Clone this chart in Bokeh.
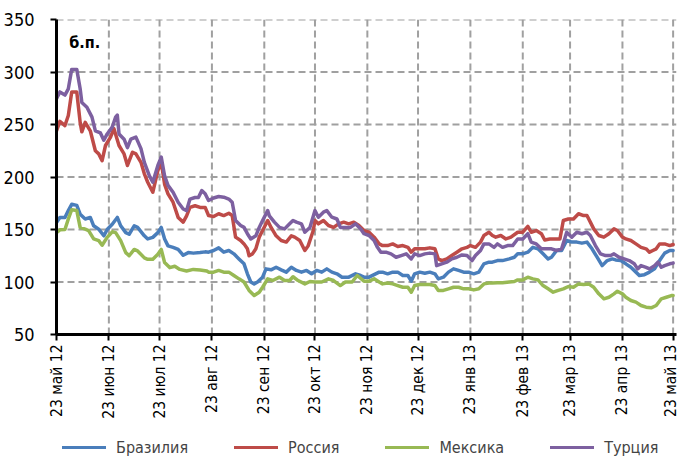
import math
import datetime as dt
import numpy as np
from bokeh.plotting import figure
from bokeh.layouts import column
from bokeh.models import Range1d, FixedTicker, Legend, LegendItem, Label
from bokeh.embed import file_html
from bokeh.resources import INLINE

# ---------------- data ----------------
start_date = "2012-05-23"
tick_dates = ["2012-05-23", "2012-06-23", "2012-07-23", "2012-08-23", "2012-09-23",
              "2012-10-23", "2012-11-23", "2012-12-23", "2013-01-23", "2013-02-23",
              "2013-03-23", "2013-04-23", "2013-05-23"]
tick_labels = ["23 май 12", "23 июн 12", "23 июл 12", "23 авг 12", "23 сен 12",
               "23 окт 12", "23 ноя 12", "23 дек 12", "23 янв 13", "23 фев 13",
               "23 мар 13", "23 апр 13", "23 май 13"]
y_ticks = [50, 100, 150, 200, 250, 300, 350]
series_names = ["Бразилия", "Россия", "Мексика", "Турция"]
unit_label = "б.п."

# days since 23 May 2012
brazil_days = [0, 2, 5, 7, 9, 12, 14, 17, 20, 22, 25, 28, 30, 33, 36, 38, 41, 43, 46, 48, 52, 54, 57, 60,
               62, 64, 66, 69, 72, 75, 78, 81, 85, 88, 90, 93, 96, 99, 102, 105, 108, 111, 113, 115, 117,
               119, 122, 124, 127, 130, 133, 136, 139, 142, 145, 148, 151, 154, 157, 160, 163, 166, 169,
               173, 177, 180, 182, 185, 188, 191, 193, 196, 199, 202, 205, 208, 210, 212, 215, 218, 221,
               224, 226, 229, 232, 235, 238, 241, 244, 247, 250, 253, 256, 258, 261, 264, 268, 271, 273,
               276, 279, 282, 285, 288, 291, 293, 296, 299, 302, 305, 308, 311, 314, 317, 320, 323, 326,
               329, 331, 334, 337, 340, 343, 345, 348, 351, 354, 357, 360, 363, 365]
brazil_vals = [156.7, 161.5, 161.5, 168, 174, 173, 164.6, 160, 161.5, 153.5, 150.3, 144, 150, 155, 161.5,
               153.5, 147, 145.5, 153.5, 152, 144, 141, 142.5, 147, 152, 141, 134.4, 133, 131, 125.5, 128,
               127.5, 128, 128.7, 128.4, 130, 132.5, 128.4, 130, 126.8, 122, 117.3, 107.8, 100, 98.2, 100,
               104.6, 112.5, 111.6, 114, 111.6, 109.4, 114, 111, 109.4, 111, 107.8, 111, 109.4, 112.5,
               109.4, 107.8, 104.6, 104.6, 107.8, 106.2, 104.6, 104.6, 107, 109.4, 109.4, 107.8, 109.4,
               109.4, 106.2, 106.2, 100.8, 107.8, 109.4, 108.4, 109.4, 107.8, 103, 104.6, 109.4, 112.5,
               111, 109.4, 109.4, 107.8, 109.4, 117.3, 118.9, 118.9, 120.4, 120.4, 122, 123.6, 126.8, 126.8,
               128.4, 133, 131.6, 126.8, 122, 123.6, 130, 130, 139.5, 138, 138, 137, 138, 131.6, 123.6,
               115.6, 120.4, 122, 121, 120.4, 117.3, 114, 109.4, 106.2, 107, 109.4, 112.5, 120.4, 127.5,
               130, 130]

russia_days = [0, 2, 5, 7, 9, 12, 14, 15, 17, 20, 23, 25, 27, 29, 32, 34, 37, 40, 42, 45, 47, 50, 52, 54,
               57, 60, 62, 64, 66, 69, 72, 75, 77, 79, 82, 85, 88, 90, 93, 96, 99, 102, 104, 106, 109, 111,
               113, 114, 116, 118, 120, 122, 125, 127, 130, 133, 136, 139, 141, 144, 147, 149, 152, 153,
               155, 158, 161, 164, 167, 170, 173, 176, 179, 182, 185, 188, 191, 193, 196, 199, 202, 205,
               208, 210, 212, 215, 218, 221, 224, 226, 228, 231, 234, 237, 240, 243, 245, 248, 251, 253,
               256, 258, 260, 263, 266, 269, 273, 276, 279, 281, 284, 287, 289, 292, 295, 298, 300, 303,
               306, 309, 312, 314, 316, 318, 321, 324, 327, 330, 332, 335, 337, 340, 343, 346, 349, 351,
               353, 355, 357, 360, 363, 365]
russia_vals = [244, 253, 249, 258.6, 281, 281, 252, 243, 252, 244, 225, 222, 215.6, 230, 238, 246, 230, 222,
               211, 223.6, 222, 214, 203, 195, 185.5, 206, 214, 193, 184, 176, 161.5, 157, 163, 171, 172.6,
               171, 171, 163.3, 162.4, 165, 163.3, 165.5, 163.3, 142.7, 139.5, 136.3, 131.6, 125, 126.8,
               131.6, 142.7, 149, 158.6, 152, 144, 139.5, 138, 144, 142.7, 139.5, 130, 134.6, 149, 158.6,
               155.4, 158.6, 153.8, 152, 155.4, 157, 155.4, 157, 153.8, 149, 147.4, 142.7, 136.3, 134.7,
               134.7, 136.3, 133.8, 134.7, 133, 128.4, 131.6, 131.6, 131.6, 132.5, 131.6, 122, 120.4, 122,
               125.2, 128.4, 131.6, 133, 134.7, 133, 138, 144.3, 147.4, 144.3, 142.7, 144.3, 141, 142.7,
               147.4, 147.4, 153, 147.4, 149, 146, 140, 141, 141, 141, 158.6, 160, 160, 165, 163.3, 163.3,
               157, 150.6, 144.3, 142.7, 146, 150.6, 149, 142.7, 141, 139.5, 136.3, 133, 131.6, 128.4, 130,
               131.6, 136.3, 136.3, 134.7, 135.7]

mexico_days = [0, 2, 5, 7, 9, 12, 14, 17, 19, 22, 25, 27, 30, 33, 35, 38, 41, 43, 46, 48, 52, 54, 57, 60,
               62, 64, 67, 70, 73, 77, 81, 85, 89, 90, 93, 96, 99, 102, 105, 108, 111, 114, 117, 120, 122,
               125, 128, 132, 135, 138, 140, 143, 147, 150, 153, 157, 161, 164, 168, 171, 175, 178, 182,
               185, 188, 191, 193, 196, 199, 202, 205, 208, 210, 212, 215, 218, 221, 224, 226, 229, 232,
               235, 238, 241, 244, 247, 250, 253, 256, 258, 261, 264, 268, 271, 273, 276, 279, 282, 285,
               288, 291, 294, 297, 300, 303, 306, 309, 312, 315, 318, 321, 324, 327, 330, 332, 335, 337,
               340, 343, 346, 349, 352, 355, 358, 361, 364, 365]
mexico_vals = [147, 149.7, 150, 160, 168.8, 168, 152, 150.3, 149, 141, 139.4, 135, 142.5, 147.8, 147, 139.4,
               128, 125, 131, 129.6, 123, 121.6, 121.6, 126.4, 131, 118.5, 113.7, 115, 112, 110.5, 112,
               111.5, 110.5, 109.4, 109.4, 111, 109.4, 109.4, 106.2, 103, 100, 92, 87.1, 90.3, 95, 103,
               101.4, 104.6, 101.4, 101.4, 105, 101.4, 98.2, 100.5, 100, 100, 103, 101.4, 96.6, 100, 100,
               106.2, 100.8, 100.8, 103, 100, 98.2, 99, 98.2, 96.6, 95, 95, 90.3, 96.6, 97.6, 97.6, 97.6,
               96.6, 92, 92, 93.5, 95, 95, 93.5, 93.5, 92.5, 93.5, 98.2, 99, 99, 99.2, 99.2, 100, 100.5,
               102, 102, 104.6, 103, 102, 96.6, 93.5, 90.3, 92, 93.5, 95.7, 95, 98.2, 97.6, 98.2, 95, 88.7,
               84, 85.5, 88.7, 91.2, 88.7, 85.5, 82.4, 80.8, 77.6, 76, 75.4, 77.6, 84, 85.5, 87.1, 87.1]

turkey_days = [0, 2, 5, 7, 9, 12, 14, 15, 18, 21, 23, 26, 28, 30, 33, 35, 36, 37, 40, 42, 44, 47, 50, 52,
               55, 57, 60, 62, 64, 66, 69, 72, 75, 77, 79, 82, 84, 86, 88, 90, 93, 96, 99, 102, 104, 106,
               109, 111, 113, 115, 118, 120, 122, 125, 126, 129, 132, 135, 138, 140, 142, 145, 147, 150,
               153, 155, 158, 160, 163, 166, 168, 171, 174, 177, 180, 182, 185, 188, 190, 192, 195, 198,
               201, 204, 207, 210, 212, 215, 218, 221, 224, 225, 228, 231, 234, 237, 240, 243, 246, 248,
               251, 253, 256, 259, 261, 264, 267, 270, 273, 276, 279, 281, 284, 287, 290, 293, 296, 299,
               302, 305, 308, 311, 314, 316, 319, 322, 325, 328, 330, 333, 336, 339, 342, 344, 346, 349,
               351, 354, 356, 358, 360, 363, 365]
turkey_vals = [274.5, 281, 278, 284, 302.5, 302.5, 284, 271, 266.5, 257, 244, 242, 235, 241, 247.5, 257,
               259, 241, 236, 228, 236, 238, 227, 214, 201, 195, 211, 219, 201, 192, 185.5, 176, 169.5,
               168, 179, 180.5, 180.5, 187, 184, 177.6, 180, 181.4, 180.8, 179, 176, 158.6, 153.8, 152,
               146, 141, 144, 152, 158.6, 168, 163, 157, 152, 150.6, 155.4, 158.6, 157, 155.4, 147.4, 152,
               168, 161.7, 166.5, 168, 161.7, 160, 152, 152, 152, 155.4, 150.6, 146, 144.3, 139.5, 133,
               128.4, 128.4, 126.8, 123.6, 125.2, 126.8, 122, 126.8, 125.2, 126.8, 127.5, 126.8, 115.6,
               117.3, 118.9, 122, 123.6, 125.8, 125.2, 120.4, 125.2, 130, 136.3, 136.3, 133, 136.3, 133,
               134.7, 134.7, 141, 141, 146, 138, 136.3, 131.6, 131.6, 131.6, 130, 131.6, 147.4, 142.7,
               147.4, 146, 147.4, 144.3, 134.7, 126.8, 125.2, 125.2, 126.8, 123.6, 122, 120.4, 117.3,
               112.5, 115.6, 114, 112.5, 115.6, 118.9, 114, 115.6, 117.3, 118]

# ---------------- chart ----------------
FONT = "DejaVu Sans Condensed"
colors = ["#4A7EBB", "#BE4B48", "#98B954", "#7D60A0"]
GRID = "#A0A0A0"
FRAME_W, FRAME_H = 620, 315

base = dt.date.fromisoformat(start_date)
tick_pos = [(dt.date.fromisoformat(d) - base).days for d in tick_dates]
x_end = 367

p = figure(frame_width=FRAME_W, frame_height=FRAME_H, output_backend="svg", toolbar_location=None,
           x_range=Range1d(0, x_end), y_range=Range1d(y_ticks[0], y_ticks[-1]),
           min_border_left=51, min_border_right=3, min_border_top=19, min_border_bottom=0)
p.outline_line_color = None
p.background_fill_color = None
p.border_fill_color = None

x_ticker = FixedTicker(ticks=tick_pos)
y_ticker = FixedTicker(ticks=y_ticks)
p.xaxis.ticker = x_ticker
p.yaxis.ticker = y_ticker
p.xgrid.grid_line_color = None
p.ygrid.grid_line_color = None

# dashed grid drawn as small filled bars along each tick line
dash_px, gap_px, thick_px = 7.0, 4.0, 2.0
ppx = FRAME_W / x_end
ppy = FRAME_H / (y_ticks[-1] - y_ticks[0])
gl, gr, gb, gt = [], [], [], []
for t in tick_pos:
    for s in np.arange(y_ticks[-1], y_ticks[0], -(dash_px + gap_px) / ppy):
        gl.append(float(t - thick_px / 2 / ppx)); gr.append(float(t + thick_px / 2 / ppx))
        gt.append(float(s)); gb.append(float(max(s - dash_px / ppy, y_ticks[0])))
for yv in y_ticks:
    for s in np.arange(0, x_end, (dash_px + gap_px) / ppx):
        gl.append(float(s)); gr.append(float(min(s + dash_px / ppx, x_end)))
        gb.append(float(yv - thick_px / 2 / ppy)); gt.append(float(yv + thick_px / 2 / ppy))
p.quad(left=gl, right=gr, bottom=gb, top=gt, fill_color=GRID, line_color=None)

all_days = [brazil_days, russia_days, mexico_days, turkey_days]
all_vals = [brazil_vals, russia_vals, mexico_vals, turkey_vals]
for d, v, c in zip(all_days, all_vals, colors):
    p.line(d, v, line_color=c, line_width=3.5, line_join="round", line_cap="round")

p.xaxis.major_label_overrides = {t: lab for t, lab in zip(tick_pos, tick_labels)}
p.xaxis.major_label_orientation = math.pi / 2

for ax in (p.xaxis, p.yaxis):
    ax.axis_line_color = "black"
    ax.axis_line_width = 3
    ax.major_tick_line_color = "black"
    ax.major_tick_line_width = 2
    ax.major_tick_out = 6
    ax.major_tick_in = 0
    ax.minor_tick_line_color = None
    ax.major_label_text_font = FONT
    ax.major_label_text_color = "black"
p.yaxis.major_label_text_font_size = "18px"
p.yaxis.major_label_standoff = 16
p.xaxis.major_label_text_font_size = "15.5px"
p.xaxis.major_label_standoff = 4

p.add_layout(Label(x=7.5, y=319, text=unit_label, text_font=FONT, text_font_size="16px",
                   text_font_style="bold", text_color="black"))

# legend in its own strip below the chart (filled swatches drawn as thin bars)
lg = figure(width=670, height=38, output_backend="svg", toolbar_location=None,
            x_range=Range1d(0, 1), y_range=Range1d(0, 1), min_border=0,
            x_axis_location=None, y_axis_location=None)
lg.outline_line_color = None
lg.xgrid.visible = False
lg.ygrid.visible = False
leg_renderers = [lg.quad(left=[2], right=[3], bottom=[2], top=[3], fill_color=c, line_color=None)
                 for c in colors]
legend = Legend(items=[LegendItem(label=n, renderers=[r]) for n, r in zip(series_names, leg_renderers)],
                orientation="horizontal", location=(0, 2), label_text_font=FONT,
                label_text_font_size="16px", glyph_width=55, glyph_height=4, label_height=20,
                label_standoff=5, spacing=40, border_line_color=None, background_fill_alpha=0,
                margin=0, padding=0)
lg.add_layout(legend, "center")

layout = column(p, lg, spacing=0)
open("out.html", "w").write(file_html(layout, INLINE))
